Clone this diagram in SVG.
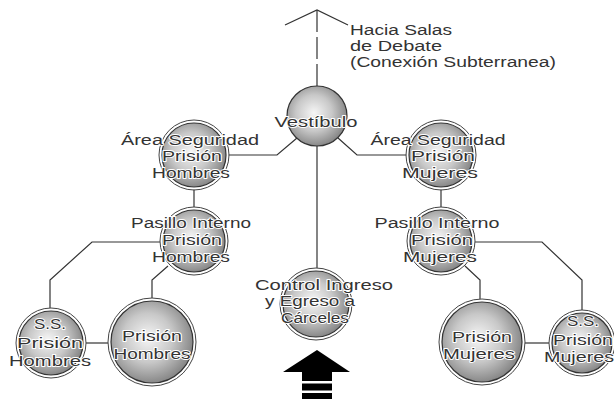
<svg xmlns="http://www.w3.org/2000/svg" width="614" height="399" viewBox="0 0 614 399">
<defs>
<radialGradient id="g" cx="45%" cy="45%" r="60%">
<stop offset="0" stop-color="#f6f6f6"/>
<stop offset="0.5" stop-color="#c8c8c8"/>
<stop offset="1" stop-color="#7c7c7c"/>
</radialGradient>
<style>
.ball{fill:url(#g);stroke:#333;stroke-width:1.2}
.ring{fill:none;stroke:#444;stroke-width:1}
.gap{fill:none;stroke:#fff;stroke-width:2.5}
.c{fill:none;stroke:#333;stroke-width:1.2}
text{font-family:"Liberation Sans",Arial,sans-serif;font-size:15.5px;fill:#333;stroke:#fff;stroke-width:1.8;paint-order:stroke;stroke-linejoin:round}
.m{text-anchor:middle}
</style>
</defs>
<rect width="614" height="399" fill="#fff"/>
<g id="connectors">
<path class="c" d="M317,86 L317,10" stroke-dasharray="22 5"/>
<path class="c" d="M285,25 L317,10 L348,25"/>
<path class="c" d="M297,138 L277,155 L227,155"/>
<path class="c" d="M338,138 L357,155 L407,155"/>
<path class="c" d="M317,146 L317,268"/>
<path class="c" d="M194,189 L194,207"/>
<path class="c" d="M441,189 L441,207"/>
<path class="c" d="M160,242 L92,242 L50,280 L50,308"/>
<path class="c" d="M168,266 L152,280 L152,298"/>
<path class="c" d="M475,242 L542,242 L582,280 L582,310"/>
<path class="c" d="M465,266 L480,280 L480,299"/>
<path class="c" d="M86,343 L108,343"/>
<path class="c" d="M525,343 L549,343"/>
</g>
<g id="note">
<text x="350" y="35" textLength="102" lengthAdjust="spacingAndGlyphs">Hacia Salas</text>
<text x="350" y="51" textLength="92" lengthAdjust="spacingAndGlyphs">de Debate</text>
<text x="350" y="67" textLength="206" lengthAdjust="spacingAndGlyphs">(Conexión Subterranea)</text>
</g>
<g id="vestibulo">
<circle class="ball" cx="317" cy="116" r="30"/>
<text class="m" x="316" y="127" textLength="83" lengthAdjust="spacingAndGlyphs">Vestíbulo</text>
</g>
<g id="area-hombres">
<circle class="gap" cx="194" cy="155" r="33.5"/>
<circle class="ball" cx="194" cy="155" r="32"/>
<circle class="ring" cx="194" cy="155" r="35"/>
<text class="m" x="190" y="145" textLength="138" lengthAdjust="spacingAndGlyphs">Área Seguridad</text>
<text class="m" x="192" y="161" textLength="60" lengthAdjust="spacingAndGlyphs">Prisión</text>
<text class="m" x="191" y="178" textLength="78" lengthAdjust="spacingAndGlyphs">Hombres</text>
</g>
<g id="area-mujeres">
<circle class="gap" cx="441" cy="155" r="33.5"/>
<circle class="ball" cx="441" cy="155" r="32"/>
<circle class="ring" cx="441" cy="155" r="35"/>
<text class="m" x="438" y="145" textLength="135" lengthAdjust="spacingAndGlyphs">Área Seguridad</text>
<text class="m" x="443" y="161" textLength="64" lengthAdjust="spacingAndGlyphs">Prisión</text>
<text class="m" x="440" y="178" textLength="76" lengthAdjust="spacingAndGlyphs">Mujeres</text>
</g>
<g id="pasillo-hombres">
<circle class="gap" cx="194" cy="241" r="32.5"/>
<circle class="ball" cx="194" cy="241" r="31"/>
<circle class="ring" cx="194" cy="241" r="34"/>
<text class="m" x="191" y="228" textLength="120" lengthAdjust="spacingAndGlyphs">Pasillo Interno</text>
<text class="m" x="192" y="245" textLength="60" lengthAdjust="spacingAndGlyphs">Prisión</text>
<text class="m" x="191" y="262" textLength="78" lengthAdjust="spacingAndGlyphs">Hombres</text>
</g>
<g id="pasillo-mujeres">
<circle class="gap" cx="441" cy="241" r="32.5"/>
<circle class="ball" cx="441" cy="241" r="31"/>
<circle class="ring" cx="441" cy="241" r="34"/>
<text class="m" x="437" y="228" textLength="125" lengthAdjust="spacingAndGlyphs">Pasillo Interno</text>
<text class="m" x="442" y="245" textLength="62" lengthAdjust="spacingAndGlyphs">Prisión</text>
<text class="m" x="440" y="262" textLength="74" lengthAdjust="spacingAndGlyphs">Mujeres</text>
</g>
<g id="ss-hombres">
<circle class="gap" cx="51" cy="343" r="33.5"/>
<circle class="ball" cx="51" cy="343" r="32"/>
<circle class="ring" cx="51" cy="343" r="35"/>
<text class="m" x="50" y="329" textLength="32" lengthAdjust="spacingAndGlyphs">S.S.</text>
<text class="m" x="50" y="348" textLength="66" lengthAdjust="spacingAndGlyphs">Prisión</text>
<text class="m" x="50" y="366" textLength="82" lengthAdjust="spacingAndGlyphs">Hombres</text>
</g>
<g id="prision-hombres">
<circle class="gap" cx="152" cy="342" r="42.5"/>
<circle class="ball" cx="152" cy="342" r="41"/>
<circle class="ring" cx="152" cy="342" r="44"/>
<text class="m" x="152" y="341" textLength="60" lengthAdjust="spacingAndGlyphs">Prisión</text>
<text class="m" x="152" y="359" textLength="77" lengthAdjust="spacingAndGlyphs">Hombres</text>
</g>
<g id="prision-mujeres">
<circle class="gap" cx="482" cy="342" r="41.5"/>
<circle class="ball" cx="482" cy="342" r="40"/>
<circle class="ring" cx="482" cy="342" r="43"/>
<text class="m" x="482" y="342" textLength="60" lengthAdjust="spacingAndGlyphs">Prisión</text>
<text class="m" x="479" y="359" textLength="72" lengthAdjust="spacingAndGlyphs">Mujeres</text>
</g>
<g id="ss-mujeres">
<circle class="gap" cx="582" cy="343" r="31.5"/>
<circle class="ball" cx="582" cy="343" r="30"/>
<circle class="ring" cx="582" cy="343" r="33"/>
<text class="m" x="583" y="326" textLength="32" lengthAdjust="spacingAndGlyphs">S.S.</text>
<text class="m" x="583" y="345" textLength="60" lengthAdjust="spacingAndGlyphs">Prisión</text>
<text class="m" x="579" y="362" textLength="70" lengthAdjust="spacingAndGlyphs">Mujeres</text>
</g>
<g id="control">
<circle class="gap" cx="316" cy="304" r="34.5"/>
<circle class="ball" cx="316" cy="304" r="33"/>
<circle class="ring" cx="316" cy="304" r="36"/>
<text x="255" y="290" textLength="138" lengthAdjust="spacingAndGlyphs">Control Ingreso</text>
<text x="265" y="306" textLength="90" lengthAdjust="spacingAndGlyphs">y Egreso a</text>
<text x="281" y="323" textLength="68" lengthAdjust="spacingAndGlyphs">Cárceles</text>
</g>
<g id="entrada">
<polygon points="317,350 350,372 332,372 332,399 302,399 302,372 283,372" fill="#000"/>
<rect x="302" y="381" width="30" height="2.5" fill="#fff"/>
<rect x="302" y="390.5" width="30" height="2.5" fill="#fff"/>
</g>
</svg>
